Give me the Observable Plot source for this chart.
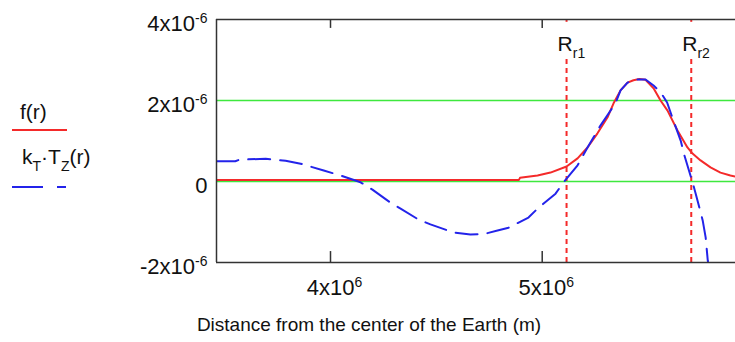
<!DOCTYPE html>
<html>
<head>
<meta charset="utf-8">
<script src="https://cdn.jsdelivr.net/npm/d3@7"></script>
<script src="https://cdn.jsdelivr.net/npm/@observablehq/plot@0.6"></script>
<style>
  html, body { margin: 0; padding: 0; background: #fff; }
  #chart { width: 735px; height: 342px; }
</style>
</head>
<body>
<div id="chart"></div>
<script>
// ---- data (r in 10^6 m, values in 10^-6) ----
const xDomain = [3.4615e6, 5.913e6];
const yDomain = [-2e-6, 4e-6];
const xTicks = [4e6, 5e6];
const xTickLabels = ["4x10^{6}", "5x10^{6}"];
const yTicks = [4e-6, 2e-6, 0, -2e-6];
const yTickLabels = ["4x10^{-6}", "2x10^{-6}", "0", "-2x10^{-6}"];
const gridLevels = [2e-6, 0];
const radiusMarks = [5.115e6, 5.704e6];
const radiusLabels = ["R_{r1}", "R_{r2}"];
const xTitle = "Distance from the center of the Earth (m)";
const seriesNames = ["f(r)", "k_{T}·T_{Z}(r)"];

const fR = [3.4615, 4.890, 4.895, 4.978, 5.039, 5.115, 5.167, 5.214, 5.261, 5.308, 5.337, 5.370, 5.403, 5.431, 5.459, 5.488, 5.526, 5.559, 5.592, 5.639, 5.686, 5.710, 5.748, 5.795, 5.842, 5.889, 5.913];
const fV = [0.04, 0.04, 0.09, 0.15, 0.22, 0.37, 0.57, 0.84, 1.19, 1.58, 1.93, 2.25, 2.44, 2.50, 2.53, 2.51, 2.30, 2.00, 1.75, 1.26, 0.84, 0.69, 0.52, 0.35, 0.22, 0.15, 0.12];

const kR = [3.4615, 3.55, 3.57, 3.694, 3.788, 3.859, 3.968, 4.047, 4.142, 4.198, 4.283, 4.331, 4.416, 4.472, 4.581, 4.661, 4.73, 4.789, 4.841, 4.935, 4.978, 5.063, 5.101, 5.167, 5.214, 5.275, 5.346, 5.370, 5.403, 5.431, 5.488, 5.526, 5.56, 5.59, 5.62, 5.654, 5.672, 5.710, 5.725, 5.758, 5.772, 5.782, 5.79];
const kV = [0.50, 0.50, 0.54, 0.56, 0.51, 0.44, 0.27, 0.15, -0.02, -0.20, -0.52, -0.67, -0.94, -1.06, -1.26, -1.31, -1.29, -1.21, -1.14, -0.89, -0.67, -0.30, -0.02, 0.40, 0.84, 1.38, 1.93, 2.25, 2.44, 2.52, 2.52, 2.37, 2.20, 1.95, 1.50, 1.01, 0.64, -0.02, -0.30, -0.96, -1.38, -1.95, -2.20];

const fData = fR.map((r, i) => ({r: r * 1e6, v: fV[i] * 1e-6}));
const kData = kR.map((r, i) => ({r: r * 1e6, v: kV[i] * 1e-6}));
const rData = radiusMarks.map((r, i) => ({r, label: radiusLabels[i]}));

const RED = "#f42a2a", BLUE = "#2323ea", GREEN = "#3ee83e", FRAME = "#333", INK = "#111";
const FONT = "'Liberation Sans', Arial, sans-serif";

const plot = Plot.plot({
  width: 735,
  height: 342,
  marginLeft: 216,
  marginRight: 0,
  marginTop: 19,
  marginBottom: 80,
  x: {domain: xDomain, axis: null},
  y: {domain: yDomain, axis: null},
  style: {fontFamily: FONT, fontSize: "20px", background: "white", color: INK},
  marks: [
    Plot.ruleY(gridLevels, {y: d => d, stroke: GREEN, strokeWidth: 1.6}),
    Plot.ruleX(rData, {x: "r", y1: -2e-6, y2: 3.11e-6, stroke: RED, strokeWidth: 2, strokeDasharray: "5,4"}),
    Plot.ruleX(rData, {x: "r", y1: 4e-6, y2: 3.93e-6, stroke: RED, strokeWidth: 2}),
    Plot.line(fData, {x: "r", y: "v", stroke: RED, strokeWidth: 2, clip: true}),
    Plot.line(kData, {x: "r", y: "v", stroke: BLUE, strokeWidth: 2, strokeDasharray: "22,10", clip: true}),
    // frame (top, bottom, left)
    Plot.ruleY([yDomain[1], yDomain[0]], {y: d => d, stroke: FRAME, strokeWidth: 1.5}),
    Plot.ruleX([xDomain[0]], {x: d => d, stroke: FRAME, strokeWidth: 1.5}),
    // inward x ticks
    Plot.ruleX(xTicks, {x: d => d, y1: -2e-6, y2: -1.73e-6, stroke: FRAME, strokeWidth: 1.5}),
    Plot.ruleX(xTicks, {x: d => d, y1: 4e-6, y2: 3.78e-6, stroke: FRAME, strokeWidth: 1.5}),
    // tick labels
    Plot.text(yTicks, {y: d => d, text: (d, i) => yTickLabels[i], frameAnchor: "left", textAnchor: "end", dx: -9, dy: 4, fontSize: 22, fill: INK}),
    Plot.text(xTicks, {x: d => d, text: (d, i) => xTickLabels[i], frameAnchor: "bottom", textAnchor: "middle", dx: 4, dy: 32, fontSize: 22, fill: INK}),
    Plot.text(rData, {x: "r", text: "label", frameAnchor: "top", textAnchor: "start", dx: -9, dy: 17, fontSize: 21, fill: INK}),
    Plot.text([xTitle], {text: d => d, frameAnchor: "bottom", textAnchor: "middle", dx: -107, dy: 68, fontSize: 19, fill: INK})
  ]
});

document.getElementById("chart").appendChild(plot);

// legend (outside the frame, on the left)
const svg = d3.select(plot);
const lg = svg.append("g").attr("font-family", FONT).attr("font-size", 21).attr("fill", INK).attr("text-anchor", "start");
lg.append("text").attr("x", 20).attr("y", 119).text(seriesNames[0]);
lg.append("line").attr("x1", 12).attr("x2", 67).attr("y1", 130).attr("y2", 130).attr("stroke", RED).attr("stroke-width", 2);
lg.append("text").attr("x", 22).attr("y", 164).text(seriesNames[1]);
lg.append("line").attr("x1", 12).attr("x2", 66).attr("y1", 187).attr("y2", 187).attr("stroke", BLUE).attr("stroke-width", 2).attr("stroke-dasharray", "31,14,9,50");

// rich text: ^{...} superscripts and _{...} subscripts
plot.querySelectorAll("text").forEach(t => {
  const s = t.textContent;
  if (!/[\^_]\{/.test(s)) return;
  const parts = s.split(/(\^\{[^}]*\}|_\{[^}]*\})/).filter(p => p.length);
  while (t.firstChild) t.removeChild(t.firstChild);
  let shift = 0;
  for (const p of parts) {
    const ts = document.createElementNS("http://www.w3.org/2000/svg", "tspan");
    let target = 0, txt = p, fs = null;
    if (p.startsWith("^{")) { target = -8; txt = p.slice(2, -1); fs = 14; }
    else if (p.startsWith("_{")) { target = 7; txt = p.slice(2, -1); fs = 14; }
    if (target !== shift) { ts.setAttribute("dy", target - shift); shift = target; }
    if (fs) ts.setAttribute("font-size", fs);
    ts.textContent = txt;
    t.appendChild(ts);
  }
});
</script>
</body>
</html>
